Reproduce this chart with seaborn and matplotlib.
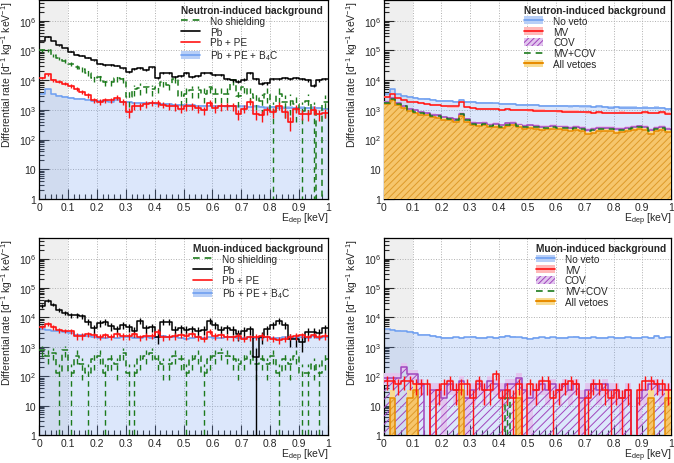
import numpy as np
import matplotlib
matplotlib.use("Agg")
import matplotlib.pyplot as plt
from matplotlib.lines import Line2D
from matplotlib.patches import Patch
from matplotlib.ticker import FuncFormatter, LogLocator, MultipleLocator, NullFormatter
import seaborn as sns

# 50 bins of 0.02 keV between 0 and 1 keV
edges = np.linspace(0.0, 1.0, 51)
centers = 0.5 * (edges[:-1] + edges[1:])
bin_list = [float(e) for e in edges]

# ---- neutron-induced background, shielding configurations ----
n_noshield = [1.0e5, 1.0e5, 7.0e4, 5.5e4, 4.5e4, 3.6e4, 2.8e4, 2.4e4, 1.8e4, 1.2e4,
              1.3e4, 9.0e3, 9.0e3, 1.2e4, 1.1e4, 2.8e3, 5.0e3, 5.5e3, 6.0e3, 5.0e3,
              6.0e3, 8.5e3, 7.0e3, 1.1e4, 3.0e3, 3.5e3, 4.5e3, 4.5e3, 3.5e3, 6.0e3,
              3.5e3, 3.5e3, 3.5e3, 1.0e4, 2.9e3, 6.0e3, 3.5e3, 2.5e3, 2.0e3, 3.5e3,
              900, 3.5e3, 1.8e3, 2.0e3, 1.6e3, 900, 2.0e3, 900, 0, 1.8e3]
n_pb = [2.1e5, 2.9e5, 2.1e5, 1.5e5, 1.2e5, 9.0e4, 7.3e4, 6.6e4, 5.6e4, 4.7e4,
        3.6e4, 3.2e4, 3.2e4, 3.1e4, 2.5e4, 1.9e4, 2.4e4, 2.6e4, 2.2e4, 2.7e4,
        1.2e4, 1.8e4, 1.7e4, 1.3e4, 1.4e4, 1.7e4, 1.3e4, 1.4e4, 1.7e4, 1.8e4,
        1.45e4, 1.5e4, 1.1e4, 1.0e4, 8.8e3, 1.05e4, 1.7e4, 1.1e4, 7.7e3, 8.0e3,
        1.1e4, 1.1e4, 1.2e4, 1.1e4, 1.2e4, 1.1e4, 1.0e4, 6.6e3, 1.0e4, 1.1e4]
n_pbpe = [1.2e4, 1.55e4, 1.0e4, 8.8e3, 7.7e3, 6.4e3, 5.2e3, 4.0e3, 3.1e3, 2.1e3,
          1.85e3, 2.1e3, 2.1e3, 2.6e3, 1.85e3, 840, 1.4e3, 1.35e3, 1.6e3, 1.75e3,
          1.7e3, 1.5e3, 1.35e3, 1.3e3, 1.1e3, 1.3e3, 1.35e3, 1.15e3, 960, 1.75e3,
          1.15e3, 1.3e3, 1.35e3, 1.3e3, 740, 1.1e3, 1.85e3, 740, 650, 960,
          840, 1.4e3, 840, 390, 1.1e3, 740, 700, 1.0e3, 700, 800]
n_b4c = [3.5e3, 4.9e3, 3.3e3, 3.0e3, 2.7e3, 2.5e3, 2.4e3, 2.3e3, 2.2e3, 2.0e3,
         2.0e3, 1.95e3, 1.9e3, 2.2e3, 1.85e3, 1.8e3, 1.75e3, 1.75e3, 1.7e3, 1.65e3,
         1.6e3, 1.6e3, 1.55e3, 1.5e3, 1.5e3, 1.45e3, 1.45e3, 1.4e3, 1.4e3, 1.4e3,
         1.35e3, 1.35e3, 1.3e3, 1.35e3, 1.3e3, 1.3e3, 1.25e3, 1.3e3, 1.25e3, 1.2e3,
         1.25e3, 1.2e3, 1.2e3, 1.2e3, 1.15e3, 1.2e3, 1.15e3, 1.2e3, 1.15e3, 1.1e3]

# ---- neutron-induced background, veto configurations ----
n_noveto = n_b4c
n_mv = [2.7e3, 3.5e3, 2.5e3, 2.2e3, 1.9e3, 1.85e3, 1.75e3, 1.6e3, 1.5e3, 1.45e3,
        1.35e3, 1.3e3, 1.3e3, 1.85e3, 1.25e3, 1.15e3, 1.1e3, 1.1e3, 1.05e3, 1.05e3,
        1.0e3, 1.05e3, 1.0e3, 1.0e3, 980, 960, 950, 950, 920, 900,
        890, 880, 870, 880, 850, 820, 800, 820, 800, 790,
        800, 810, 780, 790, 800, 830, 790, 800, 820, 750]
n_cov = [1.9e3, 2.5e3, 1.75e3, 1.4e3, 1.1e3, 960, 840, 800, 690, 650,
         570, 540, 480, 750, 480, 370, 350, 370, 320, 340,
         300, 350, 370, 320, 290, 300, 290, 265, 270, 290,
         270, 265, 245, 265, 240, 205, 225, 245, 240, 245,
         225, 235, 245, 260, 280, 260, 205, 245, 260, 230]
n_mvcov = [1.75e3, 2.3e3, 1.6e3, 1.3e3, 1.0e3, 880, 770, 730, 630, 600,
           520, 500, 440, 700, 440, 340, 320, 340, 295, 310,
           275, 320, 340, 295, 265, 275, 265, 245, 250, 265,
           250, 245, 225, 245, 220, 190, 205, 225, 220, 225,
           205, 215, 225, 240, 255, 240, 190, 225, 240, 210]
n_all = [1.6e3, 2.1e3, 1.45e3, 1.15e3, 900, 790, 690, 650, 560, 530,
         460, 440, 390, 620, 390, 300, 285, 300, 260, 275,
         245, 285, 300, 260, 235, 245, 235, 215, 220, 235,
         220, 215, 200, 215, 195, 150, 170, 200, 190, 195,
         170, 180, 195, 205, 220, 205, 160, 195, 205, 180]

# ---- muon-induced background, shielding configurations ----
m_noshield = [750, 500, 625, 125, 750, 125, 500, 250, 125, 375,
              500, 125, 375, 250, 625, 125, 125, 375, 500, 625,
              375, 250, 250, 500, 375, 125, 375, 500, 125, 375,
              500, 625, 500, 375, 250, 375, 500, 250, 375, 250,
              500, 125, 375, 250, 500, 125, 125, 250, 125, 375]
m_pb = [2.5e4, 3.7e4, 2.7e4, 1.8e4, 1.45e4, 1.2e4, 1.2e4, 1.1e4, 7.2e3, 4.2e3,
        6.6e3, 7.2e3, 4.9e3, 3.9e3, 5.5e3, 4.6e3, 3.4e3, 7.7e3, 4.2e3, 4.6e3,
        2.2e3, 7.2e3, 7.2e3, 3.8e3, 4.2e3, 3.8e3, 3.9e3, 3.4e3, 3.8e3, 7.7e3,
        5.5e3, 3.8e3, 4.2e3, 3.8e3, 2.7e3, 3.4e3, 3.9e3, 450, 2.2e3, 3.9e3,
        5.5e3, 7.7e3, 5.5e3, 1.9e3, 1.9e3, 1.5e3, 3.3e3, 3.3e3, 3.0e3, 4.2e3]
m_pbpe = [4.8e3, 5.9e3, 4.6e3, 3.7e3, 3.5e3, 3.4e3, 2.3e3, 2.3e3, 2.7e3, 2.5e3,
          2.2e3, 2.5e3, 2.2e3, 2.7e3, 2.3e3, 2.3e3, 2.7e3, 2.1e3, 2.3e3, 2.4e3,
          3.3e3, 2.1e3, 2.2e3, 2.3e3, 2.5e3, 2.3e3, 2.7e3, 2.1e3, 1.9e3, 3.3e3,
          2.3e3, 2.5e3, 2.2e3, 2.1e3, 2.3e3, 1.9e3, 2.1e3, 2.2e3, 2.3e3, 2.1e3,
          1.9e3, 1.7e3, 1.9e3, 2.2e3, 2.3e3, 2.5e3, 2.1e3, 2.5e3, 2.2e3, 2.3e3]
m_b4c = [3.9e3, 3.8e3, 3.5e3, 3.4e3, 3.3e3, 3.0e3, 2.6e3, 2.6e3, 2.3e3, 2.2e3,
         2.0e3, 2.0e3, 2.1e3, 2.0e3, 2.1e3, 2.2e3, 2.0e3, 2.0e3, 2.1e3, 2.0e3,
         2.2e3, 2.3e3, 2.2e3, 2.1e3, 2.0e3, 1.9e3, 2.0e3, 2.1e3, 2.0e3, 2.1e3,
         2.0e3, 2.0e3, 2.1e3, 2.2e3, 2.0e3, 2.0e3, 2.1e3, 2.0e3, 2.0e3, 2.1e3,
         2.0e3, 2.0e3, 2.1e3, 2.0e3, 2.0e3, 2.1e3, 2.0e3, 2.3e3, 2.0e3, 2.1e3]

# ---- muon-induced background, veto configurations ----
m_noveto = m_b4c
m_mv = [70, 70, 52.5, 70, 70, 52.5, 52.5, 52.5, 0, 35,
        52.5, 70, 35, 52.5, 52.5, 17.5, 70, 35, 35, 122.5,
        17.5, 35, 17.5, 52.5, 0, 52.5, 35, 70, 70, 17.5,
        35, 52.5, 70, 52.5, 0, 17.5, 52.5, 52.5, 35, 17.5,
        35, 17.5, 35, 0, 35, 70, 70, 52.5, 52.5, 35]
m_cov = [87.5, 87.5, 87.5, 210, 122.5, 122.5, 52.5, 0, 35, 35,
         17.5, 52.5, 35, 70, 17.5, 35, 52.5, 35, 70, 52.5,
         35, 52.5, 52.5, 87.5, 35, 17.5, 35, 52.5, 35, 52.5,
         35, 52.5, 35, 52.5, 17.5, 35, 52.5, 35, 52.5, 35,
         35, 17.5, 35, 0, 17.5, 35, 52.5, 52.5, 35, 35]
m_mvcov = [0, 0, 0, 0, 0, 0, 0, 0, 0, 0,
           0, 0, 0, 0, 0, 0, 0, 0, 0, 0,
           0, 17.5, 0, 0, 0, 0, 0, 0, 0, 0,
           0, 0, 0, 0, 0, 0, 0, 0, 0, 0,
           0, 0, 0, 0, 0, 0, 0, 0, 0, 0]
m_all = [0, 17.5, 0, 0, 17.5, 35, 0, 0, 0, 0,
         0, 0, 0, 35, 0, 0, 0, 0, 0, 0,
         0, 0, 0, 17.5, 0, 0, 0, 0, 0, 0,
         0, 0, 0, 0, 0, 0, 0, 0, 0, 0,
         0, 0, 0, 0, 0, 0, 17.5, 0, 0, 17.5]

# weight of one simulated count per series (sets the error bars)
W_N = {"noshield": 900, "pb": 100, "pbpe": 100, "b4c": 8, "mv": 8, "cov": 6}
W_M = {"noshield": 125, "pb": 450, "pbpe": 125, "b4c": 8, "veto": 17.5}

BLUE = "#6f9ff0"
BLUE_FILL = (0.44, 0.62, 0.95, 0.24)
BLUE_BAND = "#b8cff7"
RED = "#ff1414"
RED_BAND = "#ffb8b8"
BLACK = "black"
GREEN = "#1c7a1c"
PURPLE = "#a045bd"
PURPLE_BAND = "#e2c6ee"
ORANGE = "#f6c66c"
ORANGE_LINE = "#e88c00"
ORANGE_HATCH = "#de9a2a"
ORANGE_BAND = "#f9dc92"
GRAY_SPAN = "#efefef"
DASH = (0, (4, 3))


def step_line(ax, values, color, ls="-", lw=1.2, z=3):
    sns.histplot(x=centers, weights=values, bins=bin_list, element="step", fill=False,
                 color=color, linestyle=ls, linewidth=lw, zorder=z, ax=ax)


def step_fill(ax, values, face, hatch_color="none", hatch=None, z=1):
    base = hatch_color if isinstance(face, str) and face == "none" else face
    sns.histplot(x=centers, weights=values, bins=bin_list, element="step", fill=True,
                 color=base, facecolor=face, edgecolor=hatch_color, linewidth=0,
                 hatch=hatch, zorder=z, ax=ax)


def err_bars(ax, values, w, color, ls="-", lw=1.0, z=3):
    v = np.asarray(values, float)
    err = np.sqrt(v * w)
    lo = np.minimum(err, v)
    m = v > 0
    eb = ax.errorbar(centers[m], v[m], yerr=[lo[m], err[m]], fmt="none",
                     ecolor=color, elinewidth=lw, capsize=0, zorder=z)
    if ls != "-":
        eb[2][0].set_linestyle(ls)


def err_band(ax, values, w, color, z=2):
    v = np.asarray(values, float)
    err = np.sqrt(v * w)
    lo = np.append(v - np.minimum(err, v), v[-1] - min(err[-1], v[-1]))
    hi = np.append(v + err, v[-1] + err[-1])
    ax.fill_between(edges, lo, hi, step="post", color=color, linewidth=0, zorder=z)


def ytick_fmt(v, pos):
    if v < 1.5:
        return "1"
    if v < 15:
        return "10"
    return r"$10^{%d}$" % int(round(np.log10(v)))


def style_axis(ax):
    ax.set_yscale("log")
    ax.set_xlim(0, 1)
    ax.set_ylim(1, 5e6)
    ax.xaxis.set_major_locator(MultipleLocator(0.1))
    ax.xaxis.set_minor_locator(MultipleLocator(0.02))
    ax.xaxis.set_major_formatter(FuncFormatter(lambda v, p: "%g" % round(v, 2)))
    ax.yaxis.set_major_locator(LogLocator(base=10, numticks=10))
    ax.yaxis.set_minor_locator(LogLocator(base=10, subs=np.arange(2, 10), numticks=20))
    ax.yaxis.set_major_formatter(FuncFormatter(ytick_fmt))
    ax.yaxis.set_minor_formatter(NullFormatter())
    ax.tick_params(which="both", direction="in", labelsize=7.5, pad=2, width=0.8)
    ax.tick_params(which="major", length=7)
    ax.tick_params(which="minor", length=3.5)
    ax.grid(True, which="major", linestyle=":", color="#b0b0b0", linewidth=0.7)
    ax.set_axisbelow(True)
    for s in ax.spines.values():
        s.set_linewidth(0.9)
        s.set_color("black")
    ax.axvspan(0, 0.1, color=GRAY_SPAN, zorder=0.5, linewidth=0)


def finish_axis(ax):
    ax.set_xlim(0, 1)
    ax.set_ylim(1, 5e6)
    ax.set_xlabel(r"E$_{\rm dep}$ [keV]", fontsize=7.5, loc="right", labelpad=-1)
    ax.set_ylabel(r"Differential rate [d$^{-1}$ kg$^{-1}$ keV$^{-1}$]", fontsize=7.5,
                  loc="top")
    ax.yaxis.set_label_coords(-0.082, 1.0)


def add_legend(ax, title, handles, labels):
    leg = ax.legend(handles, labels, title=title, loc="upper right", frameon=False,
                    fontsize=7.2, title_fontproperties={"weight": "bold", "size": 7.3},
                    handlelength=1.9, handleheight=0.8, labelspacing=0.08,
                    borderaxespad=0.1, alignment="left", handletextpad=1.0)
    leg.set_zorder(10)


def shielding_panel(ax, title, noshield, pb, pbpe, b4c, w):
    style_axis(ax)
    step_fill(ax, b4c, BLUE_FILL, z=1)
    err_band(ax, b4c, w["b4c"], BLUE_BAND, z=2)
    step_line(ax, b4c, BLUE, lw=1.1, z=2.5)
    step_line(ax, noshield, GREEN, ls=DASH, lw=1.1, z=3)
    err_bars(ax, noshield, w["noshield"], GREEN, ls=DASH, lw=1.0, z=3)
    step_line(ax, pb, BLACK, lw=1.1, z=4)
    err_bars(ax, pb, w["pb"], BLACK, lw=1.0, z=4)
    step_line(ax, pbpe, RED, lw=1.2, z=5)
    err_bars(ax, pbpe, w["pbpe"], RED, lw=1.0, z=5)
    handles = [Line2D([], [], color=GREEN, ls=DASH, lw=1.2),
               Line2D([], [], color=BLACK, lw=1.2),
               Line2D([], [], color=RED, lw=1.2),
               (Patch(facecolor=BLUE_BAND, edgecolor="none"), Line2D([], [], color=BLUE, lw=1.2))]
    labels = ["No shielding", "Pb", "Pb + PE", r"Pb + PE + B$_4$C"]
    finish_axis(ax)
    add_legend(ax, title, handles, labels)


def veto_panel(ax, title, noveto, mv, cov, mvcov, allv, w_noveto, w_mv, w_cov, w_all,
               mv_bars=False):
    style_axis(ax)
    step_fill(ax, noveto, BLUE_FILL, z=1)
    err_band(ax, noveto, w_noveto, BLUE_BAND, z=2)
    step_line(ax, noveto, BLUE, lw=1.1, z=2.5)
    err_band(ax, cov, w_cov, PURPLE_BAND, z=2.6)
    step_fill(ax, cov, "none", hatch_color=PURPLE, hatch="////", z=2.7)
    step_line(ax, cov, PURPLE, lw=1.1, z=2.8)
    err_band(ax, allv, w_all, ORANGE_BAND, z=2.9)
    step_fill(ax, allv, ORANGE, hatch_color=ORANGE_HATCH, hatch="/////", z=3)
    step_line(ax, allv, ORANGE_LINE, lw=1.1, z=3.1)
    step_line(ax, mvcov, GREEN, ls=DASH, lw=1.1, z=3.5)
    if mv_bars:
        err_bars(ax, mvcov, w_all, GREEN, ls=DASH, lw=1.0, z=3.5)
        step_line(ax, mv, RED, lw=1.1, z=4)
        err_bars(ax, mv, w_mv, RED, lw=1.0, z=4)
    else:
        err_band(ax, mv, w_mv, RED_BAND, z=2.55)
        step_line(ax, mv, RED, lw=1.1, z=4)
    handles = [(Patch(facecolor=BLUE_BAND, edgecolor="none"), Line2D([], [], color=BLUE, lw=1.2)),
               (Patch(facecolor=RED_BAND, edgecolor="none"), Line2D([], [], color=RED, lw=1.2)),
               Patch(facecolor=PURPLE_BAND, edgecolor=PURPLE, hatch="//////", linewidth=0),
               Line2D([], [], color=GREEN, ls=DASH, lw=1.2),
               (Patch(facecolor=ORANGE_BAND, edgecolor="none"), Line2D([], [], color=ORANGE_LINE, lw=1.5))]
    labels = ["No veto", "MV", "COV", "MV+COV", "All vetoes"]
    finish_axis(ax)
    add_legend(ax, title, handles, labels)


sns.set_style("ticks")
plt.rcParams["font.family"] = ["Liberation Sans", "DejaVu Sans"]
plt.rcParams["mathtext.fontset"] = "custom"
plt.rcParams["mathtext.rm"] = "Liberation Sans"
plt.rcParams["mathtext.it"] = "Liberation Sans:italic"
plt.rcParams["hatch.linewidth"] = 0.7

fig = plt.figure(figsize=(6.74, 4.64), dpi=100)
ax_tl = fig.add_axes([0.0579, 0.569, 0.4288, 0.4289])
ax_tr = fig.add_axes([0.5697, 0.569, 0.4258, 0.4289])
ax_bl = fig.add_axes([0.0579, 0.0603, 0.4288, 0.4246])
ax_br = fig.add_axes([0.5697, 0.0603, 0.4258, 0.4246])

shielding_panel(ax_tl, "Neutron-induced background", n_noshield, n_pb, n_pbpe, n_b4c, W_N)
veto_panel(ax_tr, "Neutron-induced background", n_noveto, n_mv, n_cov, n_mvcov, n_all,
           W_N["b4c"], W_N["mv"], W_N["cov"], W_N["cov"])
shielding_panel(ax_bl, "Muon-induced background", m_noshield, m_pb, m_pbpe, m_b4c, W_M)
veto_panel(ax_br, "Muon-induced background", m_noveto, m_mv, m_cov, m_mvcov, m_all,
           W_M["b4c"], W_M["veto"], W_M["veto"], W_M["veto"], mv_bars=True)

fig.savefig("out.png", dpi=100)
